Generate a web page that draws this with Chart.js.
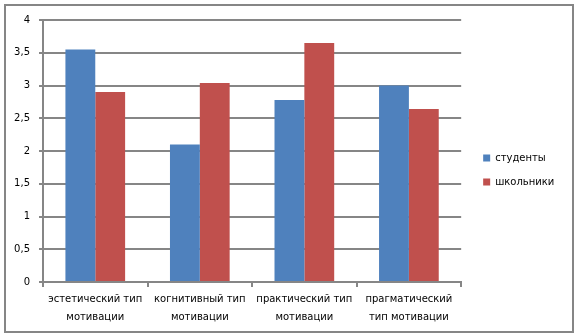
<!DOCTYPE html>
<html>
<head>
<meta charset="utf-8">
<script src="https://cdn.jsdelivr.net/npm/chart.js@4"></script>
<style>
  body { margin: 0; background: #fff; }
  #wrap { position: relative; width: 577px; height: 336px; }
  #frame { position: absolute; left: 4px; top: 4px; width: 566px; height: 325px; border: 2px solid #868686; pointer-events: none; }
</style>
</head>
<body>
<div id="wrap">
  <canvas id="myChart" width="577" height="336"></canvas>
  <div id="frame"></div>
</div>
<script>
const categorias = [
    ['эстетический тип', 'мотивации'],
    ['когнитивный тип', 'мотивации'],
    ['практический тип', 'мотивации'],
    ['прагматический', 'тип мотивации']
]
const studenty = [3.55, 2.1, 2.78, 3.0]
const shkolniki = [2.9, 3.04, 3.65, 2.64]
const nombres = ['студенты', 'школьники']

const gris = '#868686'
const fuente = { family: 'DejaVu Sans', size: 10 }

// eje invisible, solo para dejar espacio
const hueco = (lado, tam) => ({
    position: lado,
    display: true,
    grid: { display: false },
    border: { display: false },
    ticks: { display: false },
    afterFit: (s) => {
        if (lado === 'top') s.height = tam
        else s.width = tam
    }
})

const ctx = document.getElementById('myChart')
const myChart = new Chart(ctx, {
    type: 'bar',
    data: {
        labels: categorias,
        datasets: [{
            label: nombres[0],
            data: studenty,
            backgroundColor: '#4F81BD',
            categoryPercentage: 0.571,
            barPercentage: 1.0
        }, {
            label: nombres[1],
            data: shkolniki,
            backgroundColor: '#C0504D',
            categoryPercentage: 0.571,
            barPercentage: 1.0
        }]
    },
    options: {
        responsive: false,
        animation: false,
        layout: { padding: { top: 4, left: 0, right: 14, bottom: 0 } },
        plugins: {
            tooltip: { enabled: false },
            legend: {
                position: 'right',
                labels: {
                    boxWidth: 7,
                    boxHeight: 7,
                    padding: 14,
                    color: '#000',
                    font: fuente
                }
            }
        },
        scales: {
            x: {
                grid: { drawOnChartArea: false, drawTicks: true, tickLength: 5, color: gris, lineWidth: 2 },
                border: { color: gris, width: 2 },
                ticks: { color: '#000', font: { family: 'DejaVu Sans', size: 10, lineHeight: 1.75 }, padding: 4, maxRotation: 0, autoSkip: false },
                afterFit: (s) => { s.height = 54 }
            },
            y: {
                min: 0,
                max: 4,
                grid: { color: gris, lineWidth: 2, tickLength: 4 },
                border: { color: gris, width: 2 },
                ticks: {
                    stepSize: 0.5,
                    color: '#000',
                    font: fuente,
                    padding: 9,
                    callback: (v) => v.toString().replace('.', ',')
                },
                afterFit: (s) => { s.width = 43 }
            },
            padR: hueco('right', 8),
            padT: hueco('top', 16)
        }
    }
})
</script>
</body>
</html>
